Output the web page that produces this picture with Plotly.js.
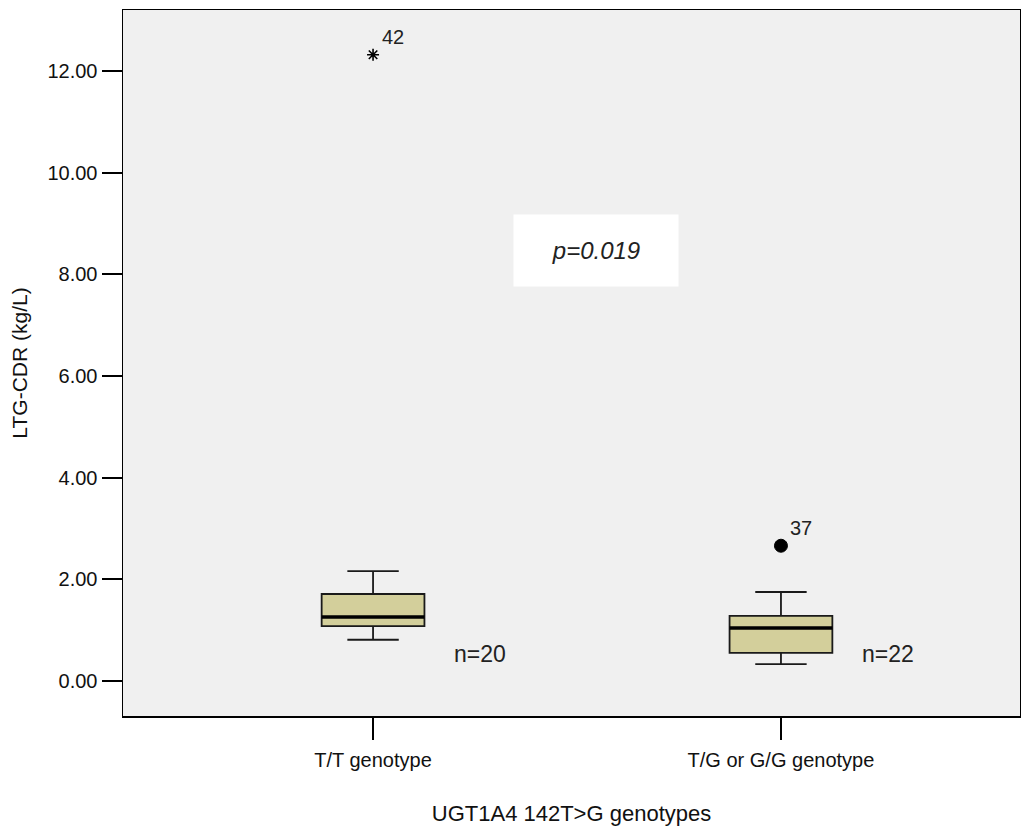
<!DOCTYPE html>
<html><head><meta charset="utf-8">
<script src="https://cdn.plot.ly/plotly-3.0.1.min.js"></script>
<style>body{margin:0;background:#fff}#chart{width:1021px;height:826px}</style>
</head><body><div id="chart"></div>
<script>
const categories = ["T/T genotype", "T/G or G/G genotype"];
const q1 = [1.08, 0.55];
const median = [1.26, 1.04];
const q3 = [1.71, 1.28];
const lowerWhisker = [0.81, 0.33];
const upperWhisker = [2.16, 1.75];
const outlierValues = [12.32, 2.66];
const outlierIds = ["42", "37"];
const outlierSymbols = ["asterisk-open", "circle"];
const nLabels = ["n=20", "n=22"];
const nLabelY = [0.53, 0.53];
const pText = "p=0.019";

const xs = categories.map((c, i) => i);
const font = "Liberation Sans, Arial, sans-serif";
const boxHalf = 0.126;

const traces = [{
  type: "box",
  x: xs,
  q1: q1, median: median, q3: q3,
  lowerfence: lowerWhisker, upperfence: upperWhisker,
  width: boxHalf * 2,
  whiskerwidth: 0.5,
  fillcolor: "#d3cf9b",
  line: {color: "#1a1a1a", width: 1.8},
  boxpoints: false,
  hoverinfo: "none",
  showlegend: false
}];

xs.forEach((x, i) => {
  const isStar = outlierSymbols[i] !== "circle";
  traces.push({
    type: "scatter", mode: "markers",
    x: [x], y: [outlierValues[i]],
    marker: {symbol: outlierSymbols[i], size: isStar ? 10 : 13,
             color: "#000", line: {color: "#000", width: isStar ? 1.6 : 1}},
    showlegend: false, hoverinfo: "none"
  });
});

const shapes = xs.map((x, i) => ({
  type: "line", xref: "x", yref: "y",
  x0: x - boxHalf, x1: x + boxHalf, y0: median[i], y1: median[i],
  line: {color: "#000", width: 3.5}
}));

const annotations = [];
xs.forEach((x, i) => {
  annotations.push({x: x, y: outlierValues[i], text: outlierIds[i], showarrow: false,
    xanchor: "left", yanchor: "bottom", xshift: 7, yshift: 5,
    font: {family: font, size: 20, color: "#222"}});
  annotations.push({x: x + 0.262, y: nLabelY[i], text: nLabels[i], showarrow: false,
    xanchor: "center", yanchor: "middle",
    font: {family: font, size: 23, color: "#222"}});
});
annotations.push({x: 0.547, y: 8.47, xref: "x", yref: "y", text: "<i>" + pText + "</i>",
  showarrow: false, bgcolor: "#ffffff", width: 162, height: 69,
  font: {family: font, size: 24, color: "#222"}});

const layout = {
  width: 1021, height: 826,
  margin: {l: 123, r: 1, t: 10, b: 110},
  paper_bgcolor: "#ffffff",
  plot_bgcolor: "#f0f0f0",
  font: {family: font, color: "#000"},
  xaxis: {
    range: [-0.613, 1.586],
    tickmode: "array", tickvals: xs, ticktext: categories,
    ticks: "outside", ticklen: 22, tickwidth: 2, tickcolor: "#000",
    ticklabelstandoff: 3,
    showgrid: false, zeroline: false,
    showline: true, linecolor: "#000", linewidth: 1.5, mirror: true,
    tickfont: {family: font, size: 20, color: "#111"},
    title: {text: "UGT1A4 142T>G genotypes", font: {family: font, size: 22, color: "#111"}, standoff: 38}
  },
  yaxis: {
    range: [-0.69, 13.2],
    tickmode: "array", tickvals: [0, 2, 4, 6, 8, 10, 12],
    ticktext: ["0.00", "2.00", "4.00", "6.00", "8.00", "10.00", "12.00"],
    ticks: "outside", ticklen: 20, tickwidth: 2, tickcolor: "#000",
    showgrid: false, zeroline: false,
    showline: true, linecolor: "#000", linewidth: 1.5, mirror: true,
    tickfont: {family: font, size: 20, color: "#111"},
    title: {text: "LTG-CDR (kg/L)", font: {family: font, size: 21, color: "#111"}, standoff: 14}
  },
  shapes: shapes,
  annotations: annotations
};

Plotly.newPlot("chart", traces, layout, {displayModeBar: false, staticPlot: true});
</script></body></html>
